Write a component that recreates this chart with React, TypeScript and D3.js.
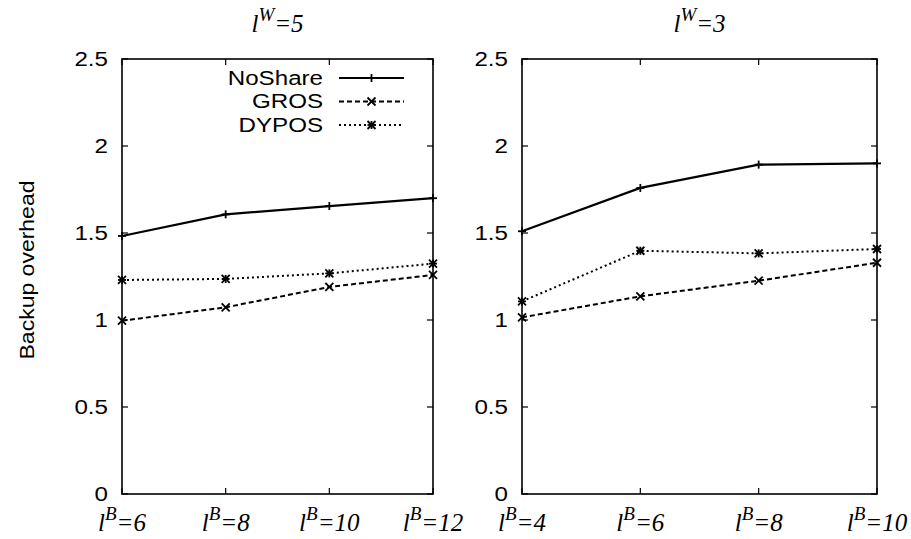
import React from "react";
import * as d3 from "d3";

const W = 911;
const H = 539;

const yTicks = [0, 0.5, 1, 1.5, 2, 2.5];

const leftTitle = "5";
const rightTitle = "3";
const leftCats = ["6", "8", "10", "12"];
const rightCats = ["4", "6", "8", "10"];

const leftNoShare = [1.483, 1.607, 1.655, 1.70];
const leftGROS = [0.996, 1.073, 1.19, 1.259];
const leftDYPOS = [1.23, 1.236, 1.268, 1.324];

const rightNoShare = [1.51, 1.759, 1.893, 1.90];
const rightGROS = [1.015, 1.136, 1.226, 1.329];
const rightDYPOS = [1.107, 1.398, 1.383, 1.408];

const seriesNames = ["NoShare", "GROS", "DYPOS"];

const SANS = "'Liberation Sans', Arial, Helvetica, sans-serif";
const SERIF = "'Liberation Serif', 'Times New Roman', serif";
const STRETCH = 1.15;

type Style = { dash: string; width: number; marker: "plus" | "cross" | "star" };
const styles: Style[] = [
  { dash: "none", width: 2.2, marker: "plus" },
  { dash: "5,3", width: 2, marker: "cross" },
  { dash: "2,3", width: 2, marker: "star" },
];

function SText({
  x,
  y,
  anchor,
  size,
  rotate = 0,
  children,
}: {
  x: number;
  y: number;
  anchor: string;
  size: number;
  rotate?: number;
  children: React.ReactNode;
}) {
  return (
    <text
      transform={`translate(${x},${y}) rotate(${rotate}) scale(${STRETCH},1)`}
      textAnchor={anchor}
      dominantBaseline="central"
      fontFamily={SANS}
      fontSize={size}
    >
      {children}
    </text>
  );
}

function Marker({ x, y, kind }: { x: number; y: number; kind: string }) {
  const s = 4;
  const parts: JSX.Element[] = [];
  if (kind === "plus" || kind === "star") {
    parts.push(<line key="h" x1={x - s} x2={x + s} y1={y} y2={y} />);
    parts.push(<line key="v" x1={x} x2={x} y1={y - s} y2={y + s} />);
  }
  if (kind === "cross" || kind === "star") {
    parts.push(<line key="d1" x1={x - s} x2={x + s} y1={y - s} y2={y + s} />);
    parts.push(<line key="d2" x1={x - s} x2={x + s} y1={y + s} y2={y - s} />);
  }
  return <g stroke="#000" strokeWidth={1.8}>{parts}</g>;
}

function SerifLabel({ x, y, sup, rest }: { x: number; y: number; sup: string; rest: string }) {
  return (
    <text x={x} y={y} textAnchor="middle" fontFamily={SERIF} fontStyle="italic" fontSize={25}>
      <tspan>l</tspan>
      <tspan dy={-11} fontSize={19}>{sup}</tspan>
      <tspan dy={11}>={rest}</tspan>
    </text>
  );
}

function Panel({
  x0,
  x1,
  title,
  cats,
  data,
  legend,
}: {
  x0: number;
  x1: number;
  title: string;
  cats: string[];
  data: number[][];
  legend: boolean;
}) {
  const y = d3.scaleLinear().domain([0, 2.5]).range([494, 59]);
  const x = d3.scalePoint<string>().domain(cats).range([x0, x1]).padding(0);
  const tick = 6;
  const line = d3
    .line<number>()
    .x((_, i) => x(cats[i]) as number)
    .y((v) => y(v));
  const cx = (x0 + x1) / 2;
  return (
    <g>
      <SerifLabel x={cx} y={32} sup="W" rest={title} />
      {yTicks.map((t) => (
        <g key={t}>
          <line x1={x0} x2={x0 + tick} y1={y(t)} y2={y(t)} stroke="#000" strokeWidth={1.2} />
          <line x1={x1} x2={x1 - tick} y1={y(t)} y2={y(t)} stroke="#000" strokeWidth={1.2} />
          <SText x={x0 - 14} y={y(t)} anchor="end" size={21}>
            {String(t)}
          </SText>
        </g>
      ))}
      {cats.map((c) => (
        <g key={c}>
          <line x1={x(c)} x2={x(c)} y1={494} y2={494 - tick} stroke="#000" strokeWidth={1.2} />
          <line x1={x(c)} x2={x(c)} y1={59} y2={59 + tick} stroke="#000" strokeWidth={1.2} />
          <SerifLabel x={x(c) as number} y={531} sup="B" rest={c} />
        </g>
      ))}
      {data.map((vals, si) => (
        <g key={si}>
          <path
            d={line(vals) || ""}
            fill="none"
            stroke="#000"
            strokeWidth={styles[si].width}
            strokeDasharray={styles[si].dash}
          />
          {vals.map((v, i) => (
            <Marker key={i} x={x(cats[i]) as number} y={y(v)} kind={styles[si].marker} />
          ))}
        </g>
      ))}
      {legend &&
        seriesNames.map((n, i) => {
          const ly = 78 + i * 23.5;
          return (
            <g key={n}>
              <SText x={323} y={ly} anchor="end" size={21}>
                {n}
              </SText>
              <line
                x1={339}
                x2={404}
                y1={ly}
                y2={ly}
                stroke="#000"
                strokeWidth={styles[i].width}
                strokeDasharray={styles[i].dash}
              />
              <Marker x={371.5} y={ly} kind={styles[i].marker} />
            </g>
          );
        })}
      <rect x={x0} y={59} width={x1 - x0} height={494 - 59} fill="none" stroke="#000" strokeWidth={1.6} />
    </g>
  );
}

export default function App() {
  return (
    <svg
      width={W}
      height={H}
      style={{ position: "absolute", left: 0, top: 0, background: "#fff" }}
    >
      <rect width={W} height={H} fill="#fff" />
      <SText x={27} y={270} anchor="middle" size={20} rotate={-90}>
        Backup overhead
      </SText>
      <Panel
        x0={122}
        x1={433}
        title={leftTitle}
        cats={leftCats}
        data={[leftNoShare, leftGROS, leftDYPOS]}
        legend={true}
      />
      <Panel
        x0={522}
        x1={877}
        title={rightTitle}
        cats={rightCats}
        data={[rightNoShare, rightGROS, rightDYPOS]}
        legend={false}
      />
    </svg>
  );
}
